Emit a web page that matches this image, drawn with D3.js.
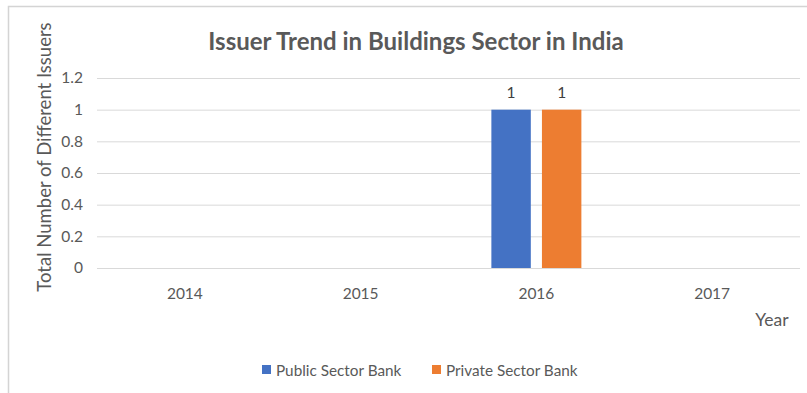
<!DOCTYPE html>
<html>
<head>
<meta charset="utf-8">
<script src="https://cdn.jsdelivr.net/npm/d3@7"></script>
<style>
  html, body { margin: 0; padding: 0; background: #fff; }
  svg { display: block; font-family: Lato, "Open Sans", sans-serif; }
</style>
</head>
<body>
<svg id="chart" width="807" height="393"></svg>
<script>
// Issuer counts by year and bank type
const years = ["2014", "2015", "2016", "2017"];
const seriesNames = ["Public Sector Bank", "Private Sector Bank"];
const publicSector = [null, null, 1, null];
const privateSector = [null, null, 1, null];
const yTicks = [0, 0.2, 0.4, 0.6, 0.8, 1, 1.2];
const colors = ["#4472C4", "#ED7D31"];

const svg = d3.select("#chart");
const W = 807, H = 393;
const plot = { left: 97, right: 800, top: 78, bottom: 268 };
const tickFont = 15.5;

// Outer frame (top and left edges)
svg.append("path")
  .attr("d", `M8.5,${H} L8.5,6.5 L${W},6.5`)
  .attr("fill", "none")
  .attr("stroke", "#d4d4d4")
  .attr("stroke-width", 1.5);

const x = d3.scaleBand().domain(years).range([plot.left, plot.right]);
const y = d3.scaleLinear().domain([0, 1.2]).range([plot.bottom, plot.top]);
const xInner = d3.scaleBand().domain(seriesNames)
  .range([x.bandwidth() / 2 - 45, x.bandwidth() / 2 + 45]).paddingInner(0.22);

// Gridlines and y tick labels
const yAxis = d3.axisLeft(y).tickValues(yTicks).tickSize(-(plot.right - plot.left))
  .tickPadding(14).tickFormat(d3.format("~g"));
const gy = svg.append("g").attr("transform", `translate(${plot.left},0)`).call(yAxis);
gy.select(".domain").remove();
gy.selectAll(".tick line").attr("stroke", "#d9d9d9").attr("stroke-width", 1);
gy.selectAll(".tick text").attr("fill", "#595959").attr("font-size", tickFont)
  .attr("font-family", "Lato, 'Open Sans', sans-serif");

// x axis labels
const xAxis = d3.axisBottom(x).tickSize(0).tickPadding(20);
const gx = svg.append("g").attr("transform", `translate(0,${plot.bottom})`).call(xAxis);
gx.select(".domain").remove();
gx.selectAll(".tick text").attr("fill", "#595959").attr("font-size", tickFont)
  .attr("font-family", "Lato, 'Open Sans', sans-serif");

// Bars
const rows = years.map((yr, i) => ({ year: yr, values: [publicSector[i], privateSector[i]] }));
const groups = svg.append("g").selectAll("g").data(rows).join("g")
  .attr("transform", d => `translate(${x(d.year)},0)`);

groups.selectAll("rect")
  .data(d => d.values.map((v, j) => ({ name: seriesNames[j], value: v, j })).filter(e => e.value != null))
  .join("rect")
  .attr("x", e => xInner(e.name))
  .attr("width", xInner.bandwidth())
  .attr("y", e => y(e.value))
  .attr("height", e => y(0) - y(e.value))
  .attr("fill", e => colors[e.j]);

// Value labels
groups.selectAll("text.val")
  .data(d => d.values.map((v, j) => ({ name: seriesNames[j], value: v })).filter(e => e.value != null))
  .join("text")
  .attr("class", "val")
  .attr("x", e => xInner(e.name) + xInner.bandwidth() / 2)
  .attr("y", e => y(e.value) - 12)
  .attr("text-anchor", "middle")
  .attr("fill", "#404040")
  .attr("font-size", tickFont)
  .text(e => e.value);

// Title
svg.append("text")
  .attr("x", 416).attr("y", 50)
  .attr("text-anchor", "middle")
  .attr("font-size", 24).attr("font-weight", "bold")
  .attr("fill", "#595959")
  .text("Issuer Trend in Buildings Sector in India");

// Axis titles
svg.append("text")
  .attr("transform", `translate(51,${(plot.top + plot.bottom) / 2 - 16}) rotate(-90)`)
  .attr("text-anchor", "middle")
  .attr("font-size", 18.5).attr("fill", "#595959")
  .text("Total Number of Different Issuers");

svg.append("text")
  .attr("x", 772).attr("y", 326)
  .attr("text-anchor", "middle")
  .attr("font-size", 17.5).attr("fill", "#595959")
  .text("Year");

// Legend
const legendItems = [
  { name: seriesNames[0], color: colors[0], x: 262 },
  { name: seriesNames[1], color: colors[1], x: 432 }
];
const lg = svg.append("g").selectAll("g").data(legendItems).join("g")
  .attr("transform", d => `translate(${d.x},370)`);
lg.append("rect").attr("x", 0).attr("y", -5).attr("width", 9).attr("height", 9)
  .attr("fill", d => d.color);
lg.append("text").attr("x", 14).attr("y", 5.5)
  .attr("font-size", 15.3).attr("fill", "#595959")
  .text(d => d.name);
</script>
</body>
</html>
